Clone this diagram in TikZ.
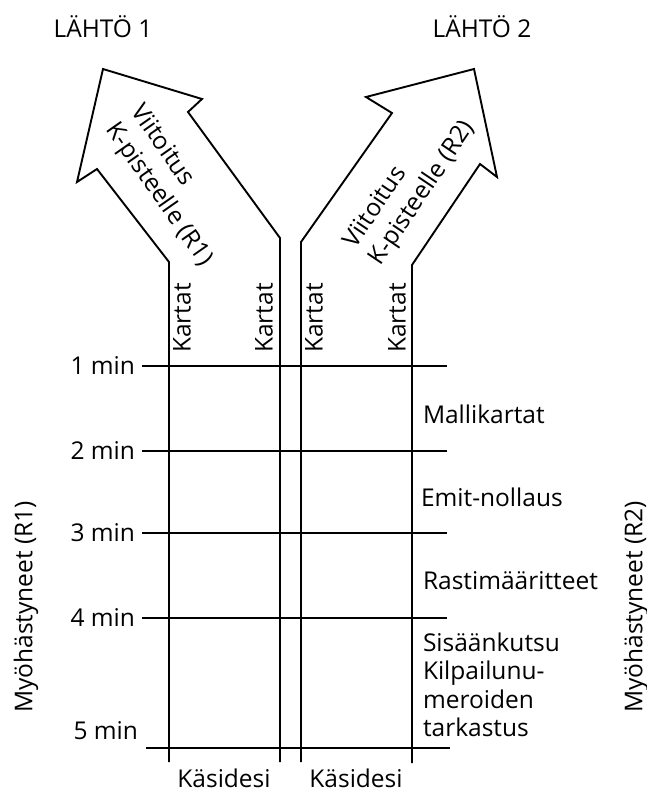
\documentclass[tikz,border=0pt]{standalone}
\usepackage{fontspec}
\setmainfont{Open Sans}
\begin{document}
\begin{tikzpicture}[x=1pt,y=-1pt,
  every node/.style={inner sep=0pt,outer sep=0pt,font=\fontsize{24.5}{29}\selectfont},
  ln/.style={line width=1.9pt,line join=miter},
  lbl/.style={anchor=east},
  side/.style={anchor=west,align=left},
  vert/.style={rotate=90},
  arr/.style={align=left,font=\fontsize{24.5}{31}\selectfont}]
\useasboundingbox (0,0) rectangle (647,793);
% headings
\node (h1) at (103,27) {LÄHTÖ 1};
\node (h2) at (482,27) {LÄHTÖ 2};
% arrow 1
\coordinate (a1b) at (169,762);
\coordinate (a1c) at (280,762);
\draw[ln] (a1b) -- (169,262) -- (97,169) -- (77,182) -- (103,69) -- (202,99) -- (188,112) -- (280,238) -- (a1c);
% arrow 2
\coordinate (a2b) at (301,762);
\coordinate (a2c) at (412,763);
\draw[ln] (a2b) -- (301,242) -- (392,113) -- (366,97) -- (474,69) -- (497,177) -- (480,164) -- (412,265) -- (a2c);
\node[arr,rotate=-55] (t1) at (171,186) {Viitoitus\\K-pisteelle (R1)};
\node[arr,rotate=56] (t2) at (410,185) {Viitoitus\\K-pisteelle (R2)};
% Kartat
\node[vert] (k1) at (182,318) {Kartat};
\node[vert] (k2) at (264,318) {Kartat};
\node[vert] (k3) at (314,318) {Kartat};
\node[vert] (k4) at (397,318) {Kartat};
% minute lines
\foreach \n/\y in {1/366,2/451,3/533,4/618}{
  \node[lbl] (m\n) at (135,\y) {\n\ min};
  \coordinate (e\n) at (447,\y);
  \draw[ln] (m\n.east) ++(7,0) -- (e\n);
}
\node[lbl] (m5) at (138,731) {5 min};
\coordinate (s5) at (146,748);
\coordinate (e5) at (450,748);
\draw[ln] (s5) -- (e5);
% right texts
\node[side] (r1) at (423,414) {Mallikartat};
\node[side] (r2) at (421,497) {Emit-nollaus};
\node[side] (r3) at (423,581) {Rastimääritteet};
\node[side,font=\fontsize{24.5}{28.5}\selectfont] (r4) at (423,685) {Sisäänkutsu\\Kilpailunu-\\meroiden\\tarkastus};
% side labels
\node[vert] (l1) at (26,607) {Myöhästyneet (R1)};
\node[vert] (l2) at (636,607) {Myöhästyneet (R2)};
% bottom
\node (b1) at (224,778) {Käsidesi};
\node (b2) at (356,778) {Käsidesi};
\end{tikzpicture}
\end{document}
